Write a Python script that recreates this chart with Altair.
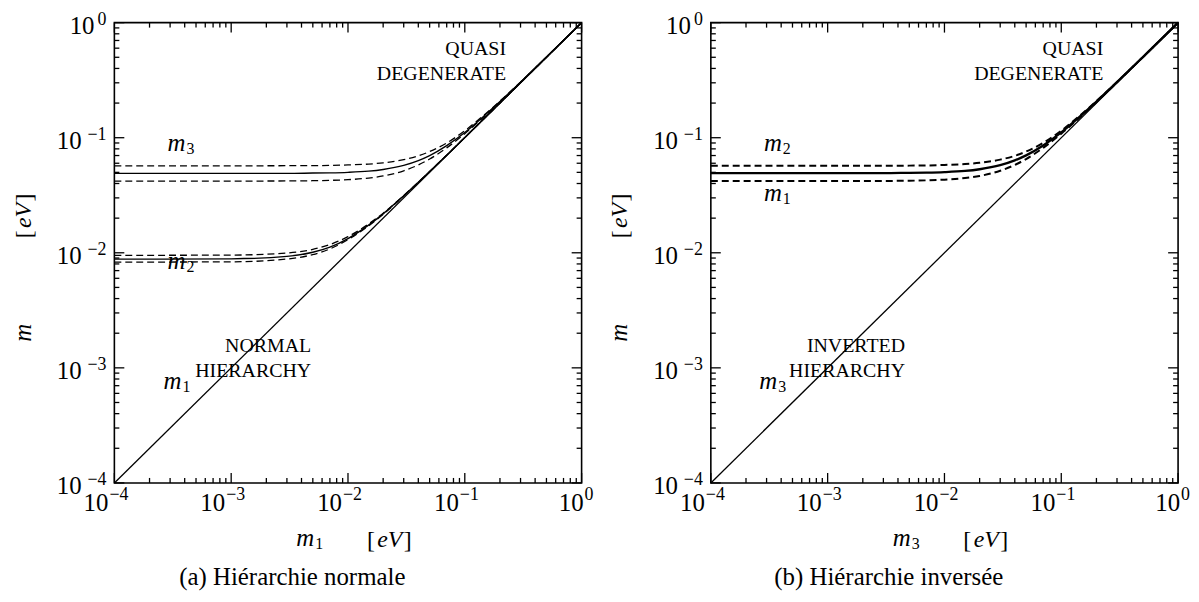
import altair as alt
import pandas as pd

# ---------------- data ----------------
X_GRID = [1e-4, 1e-3, 3e-3, 5e-3, 7e-3, 1e-2, 1.5e-2, 2e-2, 3e-2, 4e-2,
          5e-2, 7e-2, 0.1, 0.15, 0.2, 0.3, 0.5, 1.0]

# normal hierarchy (panel a)
NH_M3_MID = [0.049, 0.049, 0.049, 0.0493, 0.0495, 0.050, 0.0512, 0.053, 0.0575, 0.0633,
             0.070, 0.0855, 0.111, 0.158, 0.206, 0.304, 0.502, 1.0]
NH_M3_HI = [0.057, 0.057, 0.0571, 0.0572, 0.0574, 0.058, 0.059, 0.0605, 0.0645, 0.0696,
            0.0758, 0.090, 0.115, 0.161, 0.208, 0.305, 0.503, 1.0]
NH_M3_LO = [0.042, 0.042, 0.0421, 0.0423, 0.0426, 0.0432, 0.0446, 0.0465, 0.0516, 0.058,
            0.0653, 0.0816, 0.1085, 0.1557, 0.2044, 0.303, 0.5018, 1.0]
NH_M2_MID = [0.0088, 0.00886, 0.0093, 0.0101, 0.0112, 0.0133, 0.0174, 0.0218, 0.0313, 0.041,
             0.0508, 0.0705, 0.1004, 0.1503, 0.2002, 0.3001, 0.5, 1.0]
NH_M2_HI = [0.0095, 0.00955, 0.00996, 0.0107, 0.0118, 0.0138, 0.0178, 0.0221, 0.0314, 0.0411,
            0.0509, 0.0706, 0.1005, 0.1503, 0.2002, 0.3002, 0.5001, 1.0]
NH_M2_LO = [0.0083, 0.00834, 0.00882, 0.00965, 0.0108, 0.013, 0.0171, 0.0216, 0.0311, 0.0409,
            0.0507, 0.0705, 0.1003, 0.1502, 0.2002, 0.3001, 0.5, 1.0]

# inverted hierarchy (panel b)
IH_M_MID = [0.0492, 0.0492, 0.0492, 0.0495, 0.0497, 0.0502, 0.0514, 0.0532, 0.0577, 0.0635,
            0.0702, 0.0856, 0.1112, 0.158, 0.206, 0.304, 0.502, 1.0]
IH_M2_HI = [0.057, 0.057, 0.0571, 0.0572, 0.0574, 0.058, 0.059, 0.0605, 0.0645, 0.0696,
            0.0758, 0.090, 0.115, 0.161, 0.208, 0.305, 0.503, 1.0]
IH_M1_LO = [0.042, 0.042, 0.0421, 0.0423, 0.0426, 0.0432, 0.0446, 0.0465, 0.0516, 0.058,
            0.0653, 0.0816, 0.1085, 0.1557, 0.2044, 0.303, 0.5018, 1.0]

DIAG_X = [1e-4, 1.0]
DIAG_Y = [1e-4, 1.0]

MAJOR_TICKS = [1e-4, 1e-3, 1e-2, 1e-1, 1.0]
MINOR_TICKS = [k * d for d in [1e-4, 1e-3, 1e-2, 1e-1] for k in range(2, 10)]
TICK_EXP = ["−4", "−3", "−2", "−1", "0"]

# annotation texts (data coordinates)
NH_MLAB = {"sub": ["3", "2", "1"], "x": [3.4e-4, 3.4e-4, 3.15e-4], "y": [0.082, 0.0076, 6.9e-4]}
IH_MLAB = {"sub": ["2", "1", "3"], "x": [3.4e-4, 3.4e-4, 3.1e-4], "y": [0.082, 0.0297, 6.9e-4]}
NH_REGION = {"t": ["QUASI", "DEGENERATE", "NORMAL", "HIERARCHY"],
             "x": [0.2254, 0.2254, 0.00484, 0.00484], "y": [0.585, 0.36, 1.56e-3, 9.3e-4]}
IH_REGION = {"t": ["QUASI", "DEGENERATE", "INVERTED", "HIERARCHY"],
             "x": [0.229, 0.229, 0.0046, 0.0046], "y": [0.585, 0.36, 1.56e-3, 9.3e-4]}

FONT = "Liberation Serif, DejaVu Serif, Times New Roman, serif"
W, H = 470, 463

xs = alt.Scale(type="log", domain=[1e-4, 1], nice=False)
ysc = alt.Scale(type="log", domain=[1e-4, 1], nice=False)


def X(f="x"):
    return alt.X(f"{f}:Q", scale=xs, axis=None)


def Y(f="y"):
    return alt.Y(f"{f}:Q", scale=ysc, axis=None)


def tick_layers():
    layers = []
    for vals, ln in [(MAJOR_TICKS, 10), (MINOR_TICKS, 5)]:
        d = pd.DataFrame({"v": vals})
        base = alt.Chart(d).mark_rule(color="black", strokeWidth=1.3)
        layers.append(base.encode(x=X("v"), y=alt.value(H), y2=alt.value(H - ln)))
        layers.append(base.encode(x=X("v"), y=alt.value(0), y2=alt.value(ln)))
        layers.append(base.encode(y=Y("v"), x=alt.value(0), x2=alt.value(ln)))
        layers.append(base.encode(y=Y("v"), x=alt.value(W), x2=alt.value(W - ln)))
    return layers


def label_layers():
    d = pd.DataFrame({"v": MAJOR_TICKS, "e": TICK_EXP, "neg": [True] * 4 + [False]})
    c = alt.Chart(d)
    layers = []
    for cond, bdx, wexp in [("datum.neg", -6, 24), ("!datum.neg", 2, 11)]:
        f = c.transform_filter(cond)
        # x axis
        layers.append(f.mark_text(text="10", font=FONT, fontSize=25, align="right",
                                  baseline="middle", dx=bdx)
                      .encode(x=X("v"), y=alt.value(H + 20)))
        layers.append(f.mark_text(font=FONT, fontSize=18, align="left",
                                  baseline="middle", dx=bdx + 1)
                      .encode(x=X("v"), y=alt.value(H + 12), text="e:N"))
        # y axis
        layers.append(f.mark_text(text="10", font=FONT, fontSize=25, align="right",
                                  baseline="middle", dy=3)
                      .encode(y=Y("v"), x=alt.value(-9 - wexp)))
        layers.append(f.mark_text(font=FONT, fontSize=18, align="right",
                                  baseline="middle", dy=-3)
                      .encode(y=Y("v"), x=alt.value(-8), text="e:N"))
    return layers


def curve_df(named):
    rows = []
    for name, vals in named.items():
        for xv, yv in zip(X_GRID, vals):
            rows.append({"s": name, "x": xv, "y": yv})
    return pd.DataFrame(rows)


def panel(solid, dashed, lw_solid, lw_dash, mlab, region, xsub, caption):
    layers = tick_layers()
    diag = pd.DataFrame({"x": DIAG_X, "y": DIAG_Y})
    layers.append(alt.Chart(diag).mark_line(color="black", strokeWidth=1.3)
                  .encode(x=X(), y=Y()))
    layers.append(alt.Chart(curve_df(solid)).mark_line(color="black", strokeWidth=lw_solid,
                                                       interpolate="monotone")
                  .encode(x=X(), y=Y(), detail="s:N"))
    layers.append(alt.Chart(curve_df(dashed)).mark_line(color="black", strokeWidth=lw_dash,
                                                        strokeDash=[7, 4], interpolate="monotone")
                  .encode(x=X(), y=Y(), detail="s:N"))
    ml = pd.DataFrame(mlab)
    layers.append(alt.Chart(ml).mark_text(text="m", font=FONT, fontSize=25, fontStyle="italic",
                                          baseline="middle", dy=-5)
                  .encode(x=X(), y=Y()))
    layers.append(alt.Chart(ml).mark_text(font=FONT, fontSize=16, baseline="middle", dx=14, dy=1)
                  .encode(x=X(), y=Y(), text="sub:N"))
    rg = pd.DataFrame(region)
    layers.append(alt.Chart(rg).mark_text(font=FONT, fontSize=20, align="right", baseline="middle")
                  .encode(x=X(), y=Y(), text="t:N"))
    layers += label_layers()
    # axis titles
    one = pd.DataFrame({"k": [0]})
    t = alt.Chart(one)
    layers.append(t.mark_text(text="m", font=FONT, fontSize=25, fontStyle="italic", baseline="middle")
                  .encode(x=alt.value(192), y=alt.value(H + 55)))
    layers.append(t.mark_text(text=xsub, font=FONT, fontSize=16, baseline="middle")
                  .encode(x=alt.value(206), y=alt.value(H + 61)))
    layers.append(t.mark_text(text="[", font=FONT, fontSize=24, baseline="middle")
                  .encode(x=alt.value(258), y=alt.value(H + 58)))
    layers.append(t.mark_text(text="eV", font=FONT, fontSize=24, fontStyle="italic", baseline="middle")
                  .encode(x=alt.value(277), y=alt.value(H + 57)))
    layers.append(t.mark_text(text="]", font=FONT, fontSize=24, baseline="middle")
                  .encode(x=alt.value(295), y=alt.value(H + 58)))
    layers.append(t.mark_text(text="m", font=FONT, fontSize=25, fontStyle="italic", baseline="middle",
                              angle=270)
                  .encode(x=alt.value(-92), y=alt.value(312)))
    layers.append(t.mark_text(text="[", font=FONT, fontSize=24, baseline="middle", angle=270)
                  .encode(x=alt.value(-90), y=alt.value(213)))
    layers.append(t.mark_text(text="eV", font=FONT, fontSize=24, fontStyle="italic", baseline="middle",
                              angle=270)
                  .encode(x=alt.value(-91), y=alt.value(194)))
    layers.append(t.mark_text(text="]", font=FONT, fontSize=24, baseline="middle", angle=270)
                  .encode(x=alt.value(-90), y=alt.value(176)))
    layers.append(t.mark_text(text=caption, font=FONT, fontSize=25, baseline="middle")
                  .encode(x=alt.value(179), y=alt.value(H + 95)))
    return alt.layer(*layers).properties(width=W, height=H)


left = panel({"m3": NH_M3_MID, "m2": NH_M2_MID},
             {"m3h": NH_M3_HI, "m3l": NH_M3_LO, "m2h": NH_M2_HI, "m2l": NH_M2_LO},
             1.4, 1.3, NH_MLAB, NH_REGION, "1", "(a) Hiérarchie normale")
right = panel({"m": IH_M_MID},
              {"m2h": IH_M2_HI, "m1l": IH_M1_LO},
              2.3, 2.0, IH_MLAB, IH_REGION, "3", "(b) Hiérarchie inversée")

chart = (alt.hconcat(left, right, spacing=12)
         .properties(padding={"left": 2, "top": 0, "right": 0, "bottom": 0}, background="white")
         .configure_view(stroke="black", strokeWidth=1.6))

chart.save("out.html", embed_options={"renderer": "svg", "actions": False})
